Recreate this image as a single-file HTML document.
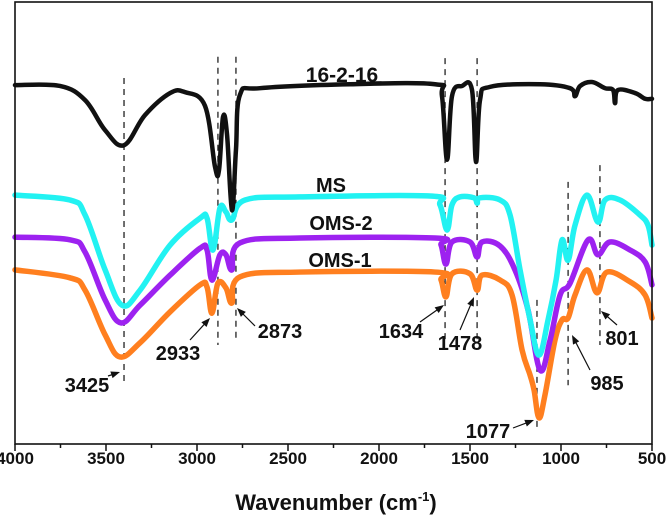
<!DOCTYPE html>
<html><head><meta charset="utf-8"><style>
html,body{margin:0;padding:0;background:#fff;width:666px;height:519px;overflow:hidden}
svg text{font-family:"Liberation Sans",Arial,sans-serif;font-weight:bold;fill:#111}
</style></head><body>
<svg id="chart" width="666" height="519" viewBox="0 0 666 519" xmlns="http://www.w3.org/2000/svg">
<g id="plot"></g>
</svg>
<script>
const xTicks=[4000,3500,3000,2500,2000,1500,1000,500];
const wn1626=[4000,3753,3615,3505,3401,3286,3148,3066,2956,2901,2879,2857,2835,2808,2786,2764,2654,2159,1692,1654,1626,1599,1544,1489,1467,1445,1390,1115,950,923,895,830,758,714,703,687,593,538,500];
const t1626=[81.2,81.0,77.8,71.0,67.6,74.4,79.4,79.6,76.5,62.7,62.0,74.0,70.0,52.9,66.5,79.0,80.5,81.4,81.4,78.7,64.3,78.7,81.0,80.1,63.8,77.8,80.8,81.4,80.5,78.7,81.0,81.9,80.5,80.1,77.1,80.1,79.4,78.1,78.1];
const wnMS=[4000,3698,3615,3505,3412,3313,3148,2983,2945,2912,2874,2841,2808,2736,2434,1720,1665,1626,1599,1555,1478,1461,1445,1335,1280,1225,1170,1121,1071,1027,994,961,923,857,797,758,676,566,522,500];
const tMS=[56.3,55.2,51.8,39.4,31.4,34.8,45.0,51.1,51.1,43.9,53.4,52.5,50.7,55.2,55.9,56.1,54.1,48.4,54.1,55.9,55.7,54.5,55.7,55.2,51.8,39.4,28.1,20.1,28.1,37.1,46.2,41.6,49.5,56.3,50.2,55.2,55.2,51.8,49.5,45.0];
const wnOMS2=[4000,3698,3615,3505,3418,3313,3148,2983,2945,2918,2874,2841,2808,2764,2434,1692,1659,1632,1599,1500,1461,1434,1335,1253,1181,1115,1060,1005,950,851,797,731,621,538,500];
const tOMS2=[46.8,46.2,43.4,32.6,27.4,31.4,38.2,44.3,43.9,37.1,42.8,42.8,39.4,45.5,46.6,46.6,45.0,40.7,45.7,45.7,42.3,45.7,44.8,39.4,30.3,16.7,23.5,33.7,36.4,46.2,42.8,45.7,43.9,41.2,36.0];
const wnOMS1=[4000,3698,3615,3505,3423,3313,3148,2983,2945,2918,2885,2841,2808,2764,2434,1692,1659,1632,1599,1500,1461,1434,1335,1269,1214,1170,1148,1121,1088,1033,994,961,923,857,802,747,621,538,500];
const tOMS1=[39.4,37.6,34.8,24.7,19.7,22.9,29.9,36.0,35.5,29.6,36.4,35.3,31.9,37.8,38.9,38.9,37.1,33.3,38.5,38.5,34.8,38.2,37.1,33.7,21.3,15.6,12.2,5.9,11.1,23.5,28.1,28.5,33.7,39.4,34.2,38.9,36.7,33.7,28.5];
const guideWn=[3401,2885,2786,1637,1461,1132,961,786];
const guideTop=[82.8,87.6,87.6,87.3,87.3,32.6,59.3,63.1];
const guideBot=[13.8,22.4,23.5,23.5,23.5,3.2,13.3,22.4];

const L=15,R=652,T=2,B=444;
const x=w=>L+(4000-w)/3500*(R-L);
const y=t=>B-t*4.42;
const NS="http://www.w3.org/2000/svg";
const g=document.getElementById('plot');
function mk(tag,attrs,parent){const e=document.createElementNS(NS,tag);for(const k in attrs)e.setAttribute(k,attrs[k]);(parent||g).appendChild(e);return e;}

for(let i=0;i<guideWn.length;i++){
 const d=mk('line',{x1:x(guideWn[i]),x2:x(guideWn[i]),y1:y(guideTop[i]),y2:y(guideBot[i]),stroke:'#222','stroke-width':1.3,'stroke-dasharray':'6,5'});
 
 
}
function smoothPath(pts){
 let d='M'+pts[0][0]+','+pts[0][1];
 const k=0.18;
 for(let i=0;i<pts.length-1;i++){
  const p0=pts[Math.max(0,i-1)],p1=pts[i],p2=pts[i+1],p3=pts[Math.min(pts.length-1,i+2)];
  const c1=[p1[0]+(p2[0]-p0[0])*k,p1[1]+(p2[1]-p0[1])*k];
  const c2=[p2[0]-(p3[0]-p1[0])*k,p2[1]-(p3[1]-p1[1])*k];
  d+=' C'+c1[0]+','+c1[1]+' '+c2[0]+','+c2[1]+' '+p2[0]+','+p2[1];
 }
 return d;
}
function series(wn,tv,color,name,sw){
 const pts=wn.map((w,i)=>[x(w),y(tv[i])]);
 const p=mk('path',{d:smoothPath(pts),fill:'none',stroke:color,'stroke-width':sw,'stroke-linejoin':'round','stroke-linecap':'round'});
 
 
}
series(wnOMS1,tOMS1,'#ff7f1f','series-oms-1',5.5);
series(wnOMS2,tOMS2,'#9d22f0','series-oms-2',5.5);
series(wnMS,tMS,'#22f2f2','series-ms',5.5);
series(wn1626,t1626,'#111','series-16-2-16',4.5);

const f=mk('rect',{x:L,y:T,width:R-L,height:B-T,fill:'none',stroke:'#111','stroke-width':1.6});


for(let i=0;i<xTicks.length;i++){
 const v=xTicks[i];
 mk('line',{x1:x(v),x2:x(v),y1:B,y2:B+7,stroke:'#111','stroke-width':1.5});
 if(i<xTicks.length-1)mk('line',{x1:x(v-250),x2:x(v-250),y1:B,y2:B+4,stroke:'#111','stroke-width':1.5});
 const t=mk('text',{x:x(v),y:464,'text-anchor':'middle','font-size':17});
 t.textContent=v;
 
 
}
const xt=mk('text',{x:336,y:510,'text-anchor':'middle','font-size':22});
xt.innerHTML='Wavenumber (cm<tspan dy="-9" font-size="13">-1</tspan><tspan dy="9">)</tspan>';



const labels=[['16-2-16',342,82,21,'label-16-2-16'],['MS',331,192,20,'label-ms'],['OMS-2',341,230,20,'label-oms-2'],['OMS-1',340,267,20,'label-oms-1'],
['3425',87,392,20,'annot-3425'],['2933',178,360,20,'annot-2933'],['2873',280,338,20,'annot-2873'],['1634',401,338,20,'annot-1634'],['1478',460,350,20,'annot-1478'],['1077',488,438,20,'annot-1077'],['985',607,390,20,'annot-985'],['801',622,345,20,'annot-801']];
labels.forEach(a=>{const t=mk('text',{x:a[1],y:a[2],'text-anchor':'middle','font-size':a[3]});t.textContent=a[0];
 
 });
const arrows=[[108,376,120,372],[190,340,210,318],[255,326,237,308],[420,322,444,305],[460,330,474,297],[513,428,534,420],[590,370,572,335],[617,325,601,311]];
arrows.forEach(a=>{
 const ang=Math.atan2(a[3]-a[1],a[2]-a[0]);
 const l=mk('line',{x1:a[0],y1:a[1],x2:a[2]-6*Math.cos(ang),y2:a[3]-6*Math.sin(ang),stroke:'#111','stroke-width':1.2});
 
 
 const p=[[a[2],a[3]],[a[2]-9*Math.cos(ang)+3.5*Math.sin(ang),a[3]-9*Math.sin(ang)-3.5*Math.cos(ang)],[a[2]-9*Math.cos(ang)-3.5*Math.sin(ang),a[3]-9*Math.sin(ang)+3.5*Math.cos(ang)]];
 mk('polygon',{points:p.map(q=>q.join(',')).join(' '),fill:'#111'});
});
</script>
</body></html>
